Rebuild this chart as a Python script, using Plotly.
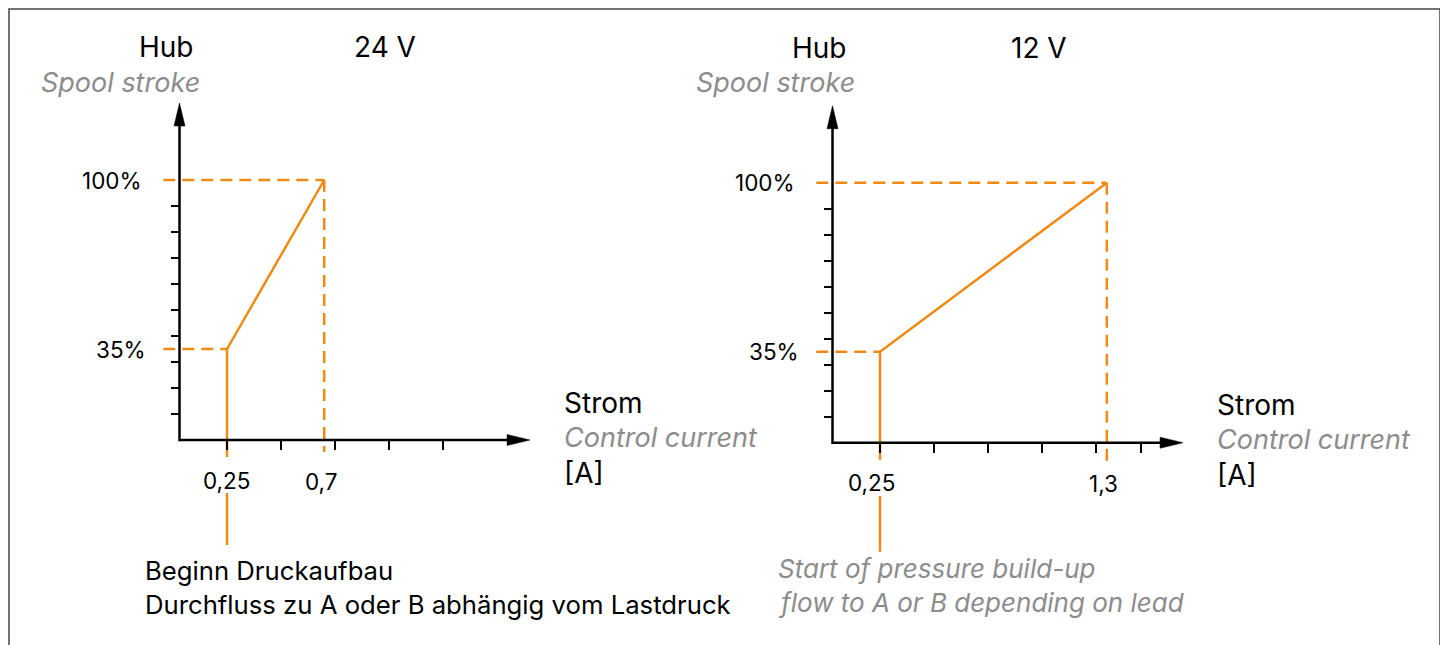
import plotly.graph_objects as go

# ---------------- data ----------------
panel_titles = ["24 V", "12 V"]
start_current = [0.25, 0.25]      # A  - start of pressure build-up
full_current = [0.7, 1.3]         # A  - 100 % spool stroke
start_stroke = [35, 35]           # %
full_stroke = [100, 100]          # %
x_tick_vals = [[0.25, 0.5, 0.75, 1.0, 1.25], [0.25, 0.5, 0.75, 1.0, 1.25, 1.46]]
y_tick_vals = [10, 20, 30, 40, 50, 60, 70, 80, 90]
x_tick_labels = [["0,25", "0,7"], ["0,25", "1,3"]]
y_tick_labels = ["100%", "35%"]
y_title_de = "Hub"
y_title_en = "Spool stroke"
x_title_de = "Strom"
x_title_en = "Control current"
x_unit = "[A]"
note_de = ["Beginn Druckaufbau", "Durchfluss zu A oder B abhängig vom Lastdruck"]
note_en = ["Start of pressure build-up", "flow to A or B depending on lead"]

# ---------------- layout geometry ----------------
W, H = 1448, 645
OFF = 8             # page margin of the html body
KX = 216.0          # px per ampere
KY = 2.6            # px per percent
X0 = 0.03           # where the axes cross (schematic)
X_TIP = 1.653
Y_TIP = 129.6
XR = [-0.2, 1.75]
YR = [-45, 140]
origins = [(179.5, 440.0), (832.5, 442.7)]   # page-pixel position of the axis crossing
DASH_X_START = -0.045
dash_bottom = [-4.6, -9.0]
lead_bottom = [-6.5, -6.6]
lower_lead = [[-20.4, -40.4], [-20.5, -41.9]]


def pxx(p):
    return (p - OFF) / W


def pxy(p):
    return 1 - (p - OFF) / H


ORANGE = "#EF8A17"
GREY = "#8C8C8C"
FONT = "Inter"

fig = go.Figure()
annotations = []
shapes = []


def text(x, y, s, size, color="black", xanchor="left", italic=False):
    annotations.append(dict(xref="paper", yref="paper", x=pxx(x), y=pxy(y),
                            text=("<i>" + s + "</i>") if italic else s, showarrow=False,
                            font=dict(family=FONT, size=size, color=color),
                            xanchor=xanchor, yanchor="middle"))


for i in range(2):
    ox, oy = origins[i]
    xa = "x" if i == 0 else "x2"
    ya = "y" if i == 0 else "y2"
    xkey = "xaxis" if i == 0 else "xaxis2"
    ykey = "yaxis" if i == 0 else "yaxis2"
    sc, fc, ss, fs = start_current[i], full_current[i], start_stroke[i], full_stroke[i]

    dash = dict(color=ORANGE, width=2.5, dash="12px,7px")
    solid = dict(color=ORANGE, width=2.5)
    common = dict(mode="lines", xaxis=xa, yaxis=ya, hoverinfo="skip", showlegend=False)
    fig.add_trace(go.Scatter(x=[DASH_X_START, fc], y=[fs, fs], line=dash, **common))
    fig.add_trace(go.Scatter(x=[fc, fc], y=[fs, dash_bottom[i]], line=dash, **common))
    fig.add_trace(go.Scatter(x=[DASH_X_START, sc], y=[ss, ss], line=dash, **common))
    fig.add_trace(go.Scatter(x=[sc, sc], y=[ss, lead_bottom[i]], line=solid, **common))
    fig.add_trace(go.Scatter(x=[sc, sc], y=lower_lead[i], line=solid, **common))
    fig.add_trace(go.Scatter(x=[sc, fc], y=[ss, fs], line=solid, **common))

    xdom = [pxx(ox + (XR[0] - X0) * KX), pxx(ox + (XR[1] - X0) * KX)]
    ydom = [pxy(oy - YR[0] * KY), pxy(oy - YR[1] * KY)]
    fig.layout[xkey] = dict(domain=xdom, range=XR, anchor="free", position=pxy(oy),
                            showline=False, showgrid=False, zeroline=False,
                            ticks="outside", tickmode="array", tickvals=x_tick_vals[i],
                            ticklen=9, tickwidth=2, tickcolor="black",
                            showticklabels=False, fixedrange=True)
    fig.layout[ykey] = dict(domain=ydom, range=YR, anchor="free", position=pxx(ox),
                            showline=False, showgrid=False, zeroline=False,
                            ticks="outside", tickmode="array", tickvals=y_tick_vals,
                            ticklen=9, tickwidth=2, tickcolor="black",
                            showticklabels=False, fixedrange=True)

    # axis lines
    shapes.append(dict(type="line", xref=xa, yref=ya, x0=X0, y0=0, x1=X_TIP - 0.05, y1=0,
                       line=dict(color="black", width=2.5), layer="above"))
    shapes.append(dict(type="line", xref=xa, yref=ya, x0=X0, y0=-0.5, x1=X0, y1=Y_TIP - 4,
                       line=dict(color="black", width=2.5), layer="above"))
    # arrow heads
    shapes.append(dict(type="path", xref=xa, yref=ya, xsizemode="pixel", ysizemode="pixel",
                       xanchor=X_TIP, yanchor=0, path="M 0 0 L -23 5.5 L -23 -5.5 Z",
                       fillcolor="black", line=dict(color="black", width=0.5), layer="above"))
    shapes.append(dict(type="path", xref=xa, yref=ya, xsizemode="pixel", ysizemode="pixel",
                       xanchor=X0, yanchor=Y_TIP, path="M 0 0 L -5.5 -23 L 5.5 -23 Z",
                       fillcolor="black", line=dict(color="black", width=0.5), layer="above"))

    # tick labels
    num_font = dict(family=FONT, size=22.5, color="black")
    annotations.append(dict(xref=xa, yref=ya, x=sc, y=0, text=x_tick_labels[i][0],
                            showarrow=False, yshift=-40, xshift=(0 if i == 0 else -8),
                            font=num_font, xanchor="center", yanchor="middle"))
    annotations.append(dict(xref=xa, yref=ya, x=fc, y=0, text=x_tick_labels[i][1],
                            showarrow=False, yshift=-41, xshift=-3,
                            font=num_font, xanchor="center", yanchor="middle"))
    annotations.append(dict(xref=xa, yref=ya, x=X0, y=fs, text=y_tick_labels[0],
                            showarrow=False, xshift=-36, font=num_font,
                            xanchor="right", yanchor="middle"))
    annotations.append(dict(xref=xa, yref=ya, x=X0, y=ss, text=y_tick_labels[1],
                            showarrow=False, xshift=-32, font=num_font,
                            xanchor="right", yanchor="middle"))

    # axis titles
    text([166, 819][i], 47 + i, y_title_de, 28, xanchor="center")
    text([121, 775][i], 82 + i, y_title_en, 27, color=GREY, xanchor="center", italic=True)
    text([385, 1039][i], 47 + i, panel_titles[i], 28, xanchor="center")
    sx = [562, 1215][i]
    text(sx, 403 + 2 * i, x_title_de, 28)
    text(sx, 437 + 2 * i, x_title_en, 27, color=GREY, italic=True)
    text(sx, 473 + 2 * i, x_unit, 28)

# notes at the bottom
for k, s in enumerate(note_de):
    text(143, 570 + 34 * k, s, 25.7)
for k, s in enumerate(note_en):
    text(776, 568 + 34 * k, s, 26, color=GREY, italic=True)

# frame
shapes.append(dict(type="rect", xref="paper", yref="paper", x0=1 / W, x1=pxx(1440),
                   y0=-0.1, y1=1 - 1 / H, line=dict(color="#444444", width=1.5),
                   fillcolor="rgba(0,0,0,0)", layer="above"))

fig.update_layout(
    width=W, height=H,
    margin=dict(l=0, r=0, t=0, b=0),
    paper_bgcolor="white", plot_bgcolor="rgba(0,0,0,0)",
    annotations=annotations, shapes=shapes,
    showlegend=False, font=dict(family=FONT),
)

fig.write_html("out.html")
